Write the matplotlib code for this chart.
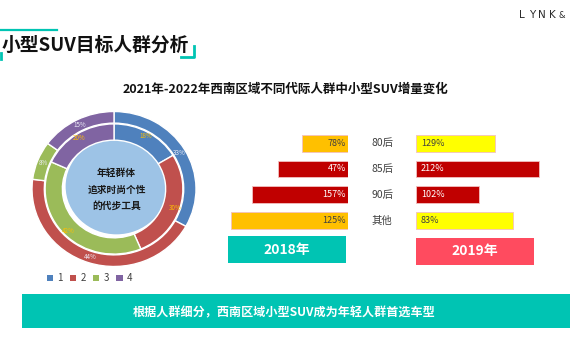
import matplotlib.pyplot as plt
from matplotlib.patches import Rectangle, Circle

plt.rcParams['font.family'] = ['Noto Sans CJK SC', 'DejaVu Sans']

W, H = 570, 360

# donut data (outer / inner ring, as labelled)
ring_names = ['1', '2', '3', '4']
outer_vals = [33, 44, 8, 15]
inner_vals = [18, 30, 42, 20]
ring_colors = ['#4F81BD', '#C0504D', '#9BBB59', '#8064A2']

# butterfly bars
groups = ['80后', '85后', '90后', '其他']
left_len = [46, 70, 96, 117]
left_labels = ['78%', '47%', '157%', '125%']
left_colors = ['#FFC000', '#C00000', '#C00000', '#FFC000']
right_len = [79, 123, 63, 97]
right_labels = ['129%', '212%', '102%', '83%']
right_colors = ['#FFFF00', '#C00000', '#C00000', '#FFFF00']

TEAL = '#00C4B3'
PINK = '#FF4B5F'

fig = plt.figure(figsize=(W / 100, H / 100), dpi=100)


def px_axes(x0, y0, x1, y1):
    return fig.add_axes([x0 / W, 1 - y1 / H, (x1 - x0) / W, (y1 - y0) / H])


bg = px_axes(0, 0, W, H)
bg.set_xlim(0, W)
bg.set_ylim(H, 0)
bg.axis('off')

# page title with brackets
bg.plot([0, 57], [29.5, 29.5], color=TEAL, lw=1.6)
bg.plot([181, 193.5, 193.5], [57, 57, 46], color=TEAL, lw=2)
bg.plot([0.5, 0.5], [53, 59], color=TEAL, lw=2)
bg.text(2, 45, '小型SUV目标人群分析', fontsize=13.5, fontweight='bold',
        color='#111111', va='center', ha='left')

# logo
for i, ch in enumerate('LYNK&'):
    bg.text(522 + i * 10, 15, ch, fontsize=7.5 if ch != '&' else 6,
            color='#2A2A2A', ha='center', va='center', family='DejaVu Sans')

# chart title
bg.text(285, 89, '2021年-2022年西南区域不同代际人群中小型SUV增量变化',
        fontsize=9, fontweight='bold', color='#111111',
        ha='center', va='center')

# bottom banner
bg.add_patch(Rectangle((22, 294), W - 22, 34, color=TEAL, lw=0))
bg.text(284, 313, '根据人群细分，西南区域小型SUV成为年轻人群首选车型',
        fontsize=8.7, fontweight='bold', color='white',
        ha='center', va='center')

# year boxes
bg.add_patch(Rectangle((228, 236), 118, 27, color=TEAL, lw=0))
bg.text(287, 250, '2018年', fontsize=10, fontweight='bold', color='white',
        ha='center', va='center')
bg.add_patch(Rectangle((416, 238), 118, 26.5, color=PINK, lw=0))
bg.text(475, 251, '2019年', fontsize=10, fontweight='bold', color='white',
        ha='center', va='center')

# category labels
for i, g in enumerate(groups):
    bg.text(382, 143.3 + i * 25.7, g, fontsize=7.5, color='#404040',
            ha='center', va='center')

# donut legend
for i, (name, c) in enumerate(zip(ring_names, ring_colors)):
    x = 46.5 + i * 23.2
    bg.add_patch(Rectangle((x, 274.5), 6.5, 6.5, color=c, lw=0))
    bg.text(x + 10.5, 278, name, fontsize=7, color='#404040',
            ha='left', va='center')

# donut
dax = px_axes(32, 111.5, 196, 266.5)
dax.add_patch(Circle((0.03, 0.035), 0.62, color='#9DC3E6', lw=0, zorder=0))
wo, to = dax.pie(outer_vals, radius=1, startangle=90, counterclock=False,
                 colors=ring_colors, labels=[f'{v}%' for v in outer_vals],
                 labeldistance=0.925,
                 textprops=dict(fontsize=4.5, color='#EEEEF8'),
                 wedgeprops=dict(width=0.15, edgecolor='white', linewidth=1))
wi, ti = dax.pie(inner_vals, radius=0.84, startangle=90, counterclock=False,
                 colors=ring_colors, labels=[f'{v}%' for v in inner_vals],
                 labeldistance=0.93,
                 textprops=dict(fontsize=4.5, color='#FFC000'),
                 wedgeprops=dict(width=0.21, edgecolor='white', linewidth=1))
for t in to + ti:
    t.set_ha('center')
    t.set_va('center')
for j, line in enumerate(['年轻群体', '追求时尚个性', '的代步工具']):
    dax.text(0.03, 0.21 - j * 0.215, line, fontsize=7, fontweight='bold',
             color='#1A1A1A', ha='center', va='center')
dax.set_aspect('auto')
dax.set_xlim(-1, 1)
dax.set_ylim(-1, 1)

# left bars (2018)
lax = px_axes(218, 130.4, 348, 233.2)
rows = list(range(len(groups)))
lax.barh(rows, left_len, height=0.65, color=left_colors,
         edgecolor='#F3C0C0', linewidth=0.6)
for i, lab in enumerate(left_labels):
    c = 'white' if left_colors[i] == '#C00000' else '#404040'
    lax.text(2, i, lab, fontsize=6.5, color=c, ha='right', va='center')
lax.set_xlim(130, 0)
lax.set_ylim(3.5, -0.5)
lax.axis('off')

# right bars (2019)
rax = px_axes(416, 130.4, 546, 233.2)
rax.barh(rows, right_len, height=0.65, color=right_colors,
         edgecolor='#F3C0C0', linewidth=0.6)
for i, lab in enumerate(right_labels):
    c = 'white' if right_colors[i] == '#C00000' else '#404040'
    rax.text(5, i, lab, fontsize=6.5, color=c, ha='left', va='center')
rax.set_xlim(0, 130)
rax.set_ylim(3.5, -0.5)
rax.axis('off')

fig.savefig('out.png', dpi=100)
